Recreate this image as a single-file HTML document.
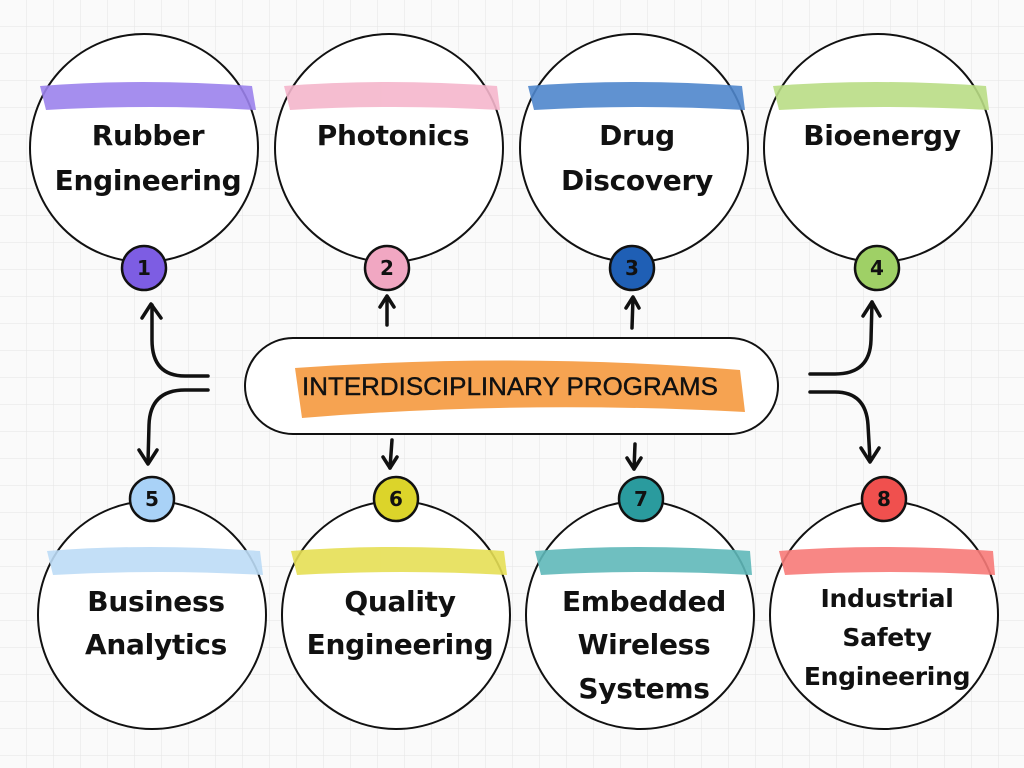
<!DOCTYPE html>
<html><head><meta charset="utf-8"><style>
html,body{margin:0;padding:0;background:#fafafa;}
svg{display:block}
text{font-family:"DejaVu Sans","Liberation Sans",sans-serif;font-weight:bold;fill:#111;text-anchor:middle}
</style></head><body>
<svg width="1024" height="768" viewBox="0 0 1024 768" xmlns="http://www.w3.org/2000/svg">
<defs>
<pattern id="g" width="27" height="27" patternUnits="userSpaceOnUse">
<path d="M27 0V27H0" fill="none" stroke="#e4e4e4" stroke-width="1"/>
</pattern>
</defs>
<rect width="1024" height="768" fill="#fafafa"/>
<rect width="1024" height="768" fill="url(#g)"/>

<g stroke="#111" stroke-width="2" fill="#fff">
<circle cx="144" cy="148" r="114"/>
<circle cx="389" cy="148" r="114"/>
<circle cx="634" cy="148" r="114"/>
<circle cx="878" cy="148" r="114"/>
<circle cx="152" cy="615" r="114"/>
<circle cx="396" cy="615" r="114"/>
<circle cx="640" cy="615" r="114"/>
<circle cx="884" cy="615" r="114"/>
</g>

<g opacity="0.9" stroke-linejoin="round">
<path d="M40 86 Q140 78 252 86 L256 110 Q150 104 46 110 Z" fill="#9b82ec"/>
<path d="M284 86 Q384 78 497 86 L500 110 Q394 104 290 110 Z" fill="#f5b6cc"/>
<path d="M528 86 Q628 78 742 86 L745 110 Q640 104 534 110 Z" fill="#4f86cc"/>
<path d="M773 86 Q873 78 986 86 L989 110 Q884 104 779 110 Z" fill="#b9dd85"/>
<path d="M47 551 Q147 543 260 551 L263 575 Q158 569 53 575 Z" fill="#bcdcf6"/>
<path d="M291 551 Q391 543 504 551 L507 575 Q402 569 297 575 Z" fill="#e6df55"/>
<path d="M535 551 Q635 543 750 551 L752 575 Q647 569 541 575 Z" fill="#5fb8b9"/>
<path d="M779 551 Q879 543 993 551 L995 575 Q890 569 785 575 Z" fill="#f77a78"/>
</g>

<g font-size="28" letter-spacing="-0.3">
<text x="148" y="145">Rubber</text><text x="148" y="190">Engineering</text>
<text x="393" y="145">Photonics</text>
<text x="637" y="145">Drug</text><text x="637" y="190">Discovery</text>
<text x="882" y="145">Bioenergy</text>
<text x="156" y="611">Business</text><text x="156" y="654">Analytics</text>
<text x="400" y="611">Quality</text><text x="400" y="654">Engineering</text>
<text x="644" y="611">Embedded</text><text x="644" y="654">Wireless</text><text x="644" y="698">Systems</text>
</g>
<g font-size="25" letter-spacing="-0.3">
<text x="887" y="607">Industrial</text><text x="887" y="646">Safety</text><text x="887" y="685">Engineering</text>
</g>

<g stroke="#111" stroke-width="2.5">
<circle cx="144" cy="268" r="22" fill="#7d5de3"/>
<circle cx="387" cy="268" r="22" fill="#f1a7c2"/>
<circle cx="632" cy="268" r="22" fill="#1f5fb5"/>
<circle cx="877" cy="268" r="22" fill="#9fd066"/>
<circle cx="152" cy="499" r="22" fill="#a9d2f7"/>
<circle cx="396" cy="499" r="22" fill="#dcd42a"/>
<circle cx="641" cy="499" r="22" fill="#2a9b9e"/>
<circle cx="884" cy="499" r="22" fill="#f0504e"/>
</g>
<g font-size="20">
<text x="144" y="275">1</text><text x="387" y="275">2</text><text x="632" y="275">3</text><text x="877" y="275">4</text>
<text x="152" y="506">5</text><text x="396" y="506">6</text><text x="641" y="506">7</text><text x="884" y="506">8</text>
</g>

<rect x="245" y="338" width="533" height="96" rx="48" fill="#fff" stroke="#111" stroke-width="2"/>
<path d="M295 368 Q520 352 740 370 L745 412 Q520 400 302 418 Z" fill="#f6a351"/>
<text x="510" y="395" font-size="25" style="font-weight:normal;font-family:'Liberation Sans Narrow','Liberation Sans',sans-serif" textLength="416" lengthAdjust="spacingAndGlyphs" stroke="#111" stroke-width="0.4">INTERDISCIPLINARY PROGRAMS</text>

<g stroke="#111" stroke-width="3.5" fill="none" stroke-linecap="round" stroke-linejoin="round">
<path d="M208 376 L185 376 Q152 376 152 340 L152 305"/>
<path d="M142 318 L151 304 L161 318"/>
<path d="M208 390 L185 390 Q150 390 149 425 L148 462"/>
<path d="M139 450 L148 464 L157 450"/>
<path d="M810 374 L835 374 Q870 374 871 340 L872 302"/>
<path d="M863 316 L872 302 L880 316"/>
<path d="M810 392 L835 392 Q866 392 868 425 L870 460"/>
<path d="M861 448 L870 462 L879 448"/>
<path d="M387 325 L387 297"/><path d="M380 307 L387 296 L394 307"/>
<path d="M632 328 L633 298"/><path d="M626 308 L633 297 L639 308"/>
<path d="M392 440 L390 468"/><path d="M383 457 L390 468 L397 457"/>
<path d="M635 444 L634 469"/><path d="M627 458 L634 469 L641 458"/>
</g>
</svg>
</body></html>
